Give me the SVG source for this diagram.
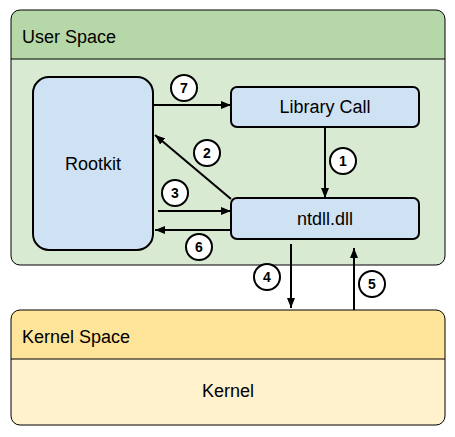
<svg xmlns="http://www.w3.org/2000/svg" width="455" height="437" viewBox="0 0 455 437">
<defs>
<marker id="ah" viewBox="0 0 10 8" refX="10" refY="4" markerWidth="10" markerHeight="8" markerUnits="userSpaceOnUse" orient="auto">
<path d="M0,0 L10,4 L0,8 Z" fill="#000"/>
</marker>
</defs>
<style>
text{font-family:"Liberation Sans",Arial,sans-serif;fill:#000}
.lbl{font-size:18px}
.mid{text-anchor:middle}
.node{fill:#cfe2f3;stroke:#000;stroke-width:2}
.edge{stroke:#000;stroke-width:2;fill:none;marker-end:url(#ah)}
.num circle{fill:#fff;stroke:#000;stroke-width:2}
.num text{font-size:14px;font-weight:bold;text-anchor:middle}
</style>
<rect width="455" height="437" fill="#fff"/>
<g id="user-space">
<path d="M19,10 H436 A9,9 0 0 1 445,19 V59 H11 V19 A8,8 0 0 1 19,10 Z" fill="#b6d7a8"/>
<path d="M11,59 H445 V256 A9,9 0 0 1 436,265 H19 A8,8 0 0 1 11,257 Z" fill="#d9ead3"/>
<rect x="11" y="10" width="434" height="255" rx="9" fill="none" stroke="#000" stroke-width="1"/>
<line x1="11" y1="59" x2="445" y2="59" stroke="#000" stroke-width="1"/>
<text class="lbl" x="22" y="43">User Space</text>
</g>
<g id="kernel-space">
<path d="M19,310 H436 A9,9 0 0 1 445,319 V359 H11 V319 A8,8 0 0 1 19,310 Z" fill="#ffe599"/>
<path d="M11,359 H445 V416 A9,9 0 0 1 436,425 H19 A8,8 0 0 1 11,417 Z" fill="#fff2cc"/>
<rect x="11" y="310" width="434" height="115" rx="9" fill="none" stroke="#000" stroke-width="1"/>
<line x1="11" y1="359" x2="445" y2="359" stroke="#000" stroke-width="1"/>
<text class="lbl" x="22" y="343">Kernel Space</text>
<text class="lbl mid" x="228" y="397">Kernel</text>
</g>
<g id="rootkit">
<rect class="node" x="33" y="77" width="120" height="173" rx="16"/>
<text class="lbl mid" x="93" y="170">Rootkit</text>
</g>
<g id="library-call">
<rect class="node" x="231" y="87" width="188" height="40" rx="6"/>
<text class="lbl mid" x="325" y="113">Library Call</text>
</g>
<g id="ntdll">
<rect class="node" x="231" y="198" width="188" height="41" rx="6"/>
<text class="lbl mid" x="325" y="225">ntdll.dll</text>
</g>
<g id="connectors">
<line class="edge" x1="153" y1="105" x2="231" y2="105"/>
<line class="edge" x1="325" y1="127" x2="325" y2="198"/>
<line class="edge" x1="231" y1="199" x2="155" y2="135"/>
<line class="edge" x1="158" y1="211" x2="231" y2="211"/>
<line class="edge" x1="231" y1="230" x2="155" y2="230"/>
<line class="edge" x1="291" y1="244" x2="291" y2="308"/>
<line class="edge" x1="354" y1="310" x2="354" y2="248"/>
<g class="num"><circle cx="184" cy="88" r="13"/><text x="184" y="93">7</text></g>
<g class="num"><circle cx="343" cy="161" r="13"/><text x="343" y="166">1</text></g>
<g class="num"><circle cx="207" cy="153" r="13"/><text x="207" y="158">2</text></g>
<g class="num"><circle cx="175" cy="193" r="13"/><text x="175" y="198">3</text></g>
<g class="num"><circle cx="199" cy="247" r="13"/><text x="199" y="252">6</text></g>
<g class="num"><circle cx="267" cy="277" r="13"/><text x="267" y="282">4</text></g>
<g class="num"><circle cx="372" cy="284" r="13"/><text x="372" y="289">5</text></g>
</g>
</svg>
